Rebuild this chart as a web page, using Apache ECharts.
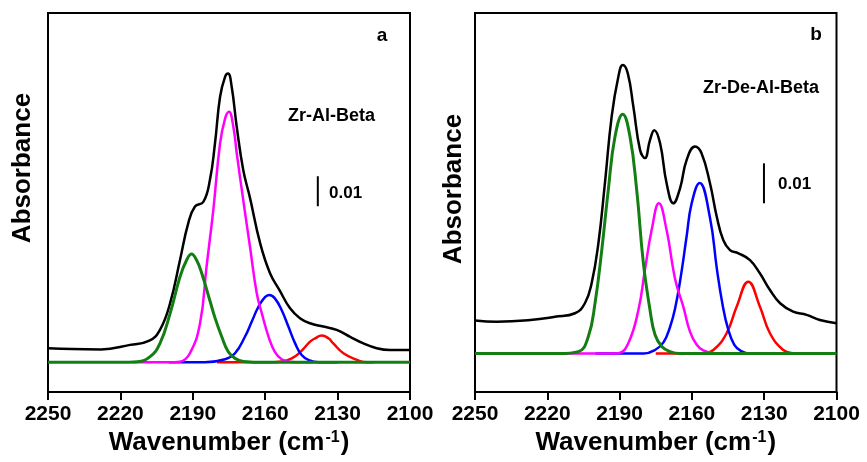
<!DOCTYPE html>
<html>
<head>
<meta charset="utf-8">
<script src="https://cdn.jsdelivr.net/npm/echarts@6/dist/echarts.min.js"></script>
<style>
  html, body { margin: 0; padding: 0; background: #fff; }
  #chart { width: 867px; height: 462px; }
</style>
</head>
<body>
<div id="chart"></div>
<script>
// Wavenumber axis ticks (cm-1)
const wavenumberTicks = [2250, 2220, 2190, 2160, 2130, 2100];

// Panel a: Zr-Al-Beta — measured spectrum and fitted bands [wavenumber, absorbance]
const totalA = [[2250, 0.0047], [2240, 0.0044], [2228, 0.0043], [2216, 0.0058], [2208, 0.0072], [2203.6, 0.0108], [2199.4, 0.0197], [2195.3, 0.0341], [2191.9, 0.0463], [2189.1, 0.0519], [2185.6, 0.0535], [2182.9, 0.0608], [2180.8, 0.073], [2178.7, 0.0885], [2176.6, 0.0952], [2175.4, 0.0962], [2173.9, 0.0919], [2171.8, 0.0785], [2169.1, 0.0641], [2166.3, 0.0548], [2162.1, 0.0397], [2158, 0.0297], [2153.9, 0.0238], [2149.7, 0.018], [2145.6, 0.0147], [2141.4, 0.013], [2135.9, 0.0119], [2130.4, 0.0108], [2124.8, 0.0085], [2119.3, 0.0063], [2113.8, 0.0047], [2108.3, 0.0041], [2100, 0.0041]];
const band2190A = [[2250, 0], [2220, 0], [2213, 0.0002], [2207.7, 0.0019], [2203.6, 0.0063], [2199.4, 0.0163], [2195.3, 0.0285], [2192.6, 0.034], [2190.5, 0.0361], [2188.4, 0.034], [2186.3, 0.0297], [2182.9, 0.0205], [2180.8, 0.0148], [2178, 0.0085], [2175.3, 0.0035], [2172.5, 0.0013], [2169, 0.0003], [2160, 0], [2100, 0]];
const band2175A = [[2215, 0], [2200, 0], [2195.3, 0.0002], [2191.2, 0.003], [2187, 0.013], [2184.3, 0.0319], [2181.5, 0.0508], [2178.7, 0.073], [2176.6, 0.0813], [2175, 0.0835], [2173.2, 0.0785], [2171.8, 0.0697], [2169.1, 0.0541], [2166.3, 0.0385], [2163.5, 0.023], [2161.4, 0.0163], [2158.6, 0.0085], [2156, 0.0035], [2153.2, 0.001], [2150, 0.0002], [2145, 0], [2140, 0]];
const band2158A = [[2200, 0], [2185, 0], [2176.6, 0.001], [2172.5, 0.003], [2168.4, 0.0085], [2165.6, 0.0135], [2162.8, 0.0185], [2160.1, 0.0217], [2158.3, 0.0224], [2156, 0.0213], [2153.2, 0.0174], [2150.4, 0.0119], [2147.6, 0.0063], [2144.9, 0.0024], [2142.1, 0.0008], [2138, 0], [2130, 0]];
const band2137A = [[2180, 0], [2160, 0], [2153, 0.0003], [2149, 0.0013], [2145.6, 0.0033], [2141.4, 0.0069], [2139.3, 0.008], [2136.6, 0.0089], [2133.8, 0.008], [2131.8, 0.0063], [2127.6, 0.003], [2122, 0.0008], [2118, 0], [2115, 0]];

// Panel b: Zr-De-Al-Beta
const totalB = [[2250, 0.0083], [2241, 0.008], [2227, 0.0084], [2216.8, 0.0092], [2208.5, 0.0101], [2204.4, 0.0126], [2201.6, 0.0176], [2198.8, 0.0276], [2196.1, 0.0426], [2193.3, 0.0593], [2190.5, 0.0693], [2188.7, 0.0722], [2186.6, 0.0701], [2184.3, 0.0618], [2181.5, 0.0509], [2179.5, 0.0489], [2177.4, 0.0534], [2175.6, 0.0559], [2173.2, 0.0526], [2170.5, 0.0426], [2167.7, 0.0376], [2164.9, 0.0414], [2162.2, 0.0484], [2158.7, 0.0518], [2156, 0.0501], [2152.5, 0.0426], [2149.7, 0.0343], [2147, 0.0284], [2144.2, 0.0259], [2140.7, 0.0251], [2135.9, 0.0234], [2131.8, 0.0201], [2127.6, 0.0159], [2123.4, 0.0126], [2118, 0.0105], [2112.4, 0.0097], [2106.9, 0.0084], [2100, 0.0076]];
const band2189B = [[2250, 0], [2215, 0], [2207.1, 0.0005], [2203, 0.0042], [2200.2, 0.0126], [2197.4, 0.0259], [2194.7, 0.0409], [2191.9, 0.0543], [2188.7, 0.0599], [2185.7, 0.0543], [2182.9, 0.0409], [2180.2, 0.023], [2177.4, 0.011], [2175.3, 0.0047], [2172.5, 0.0018], [2169.1, 0.0005], [2165, 0], [2100, 0]];
const band2174B = [[2215, 0], [2195, 0], [2190.5, 0.0001], [2186.4, 0.0026], [2182.2, 0.0109], [2179.5, 0.0209], [2176.7, 0.0309], [2173.7, 0.0376], [2170.5, 0.0309], [2167.7, 0.0209], [2166.3, 0.017], [2163.6, 0.0118], [2160.8, 0.0055], [2158, 0.0022], [2155.3, 0.0008], [2151, 0.0001], [2145, 0]];
const band2157B = [[2200, 0], [2180, 0], [2175.3, 0.0009], [2171.8, 0.0028], [2169.1, 0.0066], [2167, 0.0112], [2164.5, 0.0197], [2162.2, 0.0293], [2160.1, 0.0376], [2156.8, 0.0427], [2152.5, 0.034], [2149.6, 0.021], [2147.2, 0.012], [2145, 0.0062], [2142.4, 0.0022], [2139.7, 0.0007], [2136, 0], [2130, 0]];
const band2137B = [[2175, 0], [2160, 0], [2155.3, 0.0001], [2151.1, 0.0009], [2145.6, 0.0051], [2141.4, 0.0118], [2136.6, 0.018], [2131.8, 0.0118], [2127.6, 0.0051], [2122.1, 0.0009], [2118, 0.0001], [2115, 0]];

// Absorbance scale bars (0.01 units)
const scaleBarA = [[2138.2, 0.052], [2138.2, 0.062]];
const scaleBarB = [[2130.1, 0.0376], [2130.1, 0.0476]];
const scaleLabel = '0.01';
const sampleNames = ['Zr-Al-Beta', 'Zr-De-Al-Beta'];
const panelLetters = ['a', 'b'];

const FONT = '"Liberation Sans", Arial, Helvetica, sans-serif';
const COLORS = { total: '#000000', green: '#137f13', magenta: '#ff00ff', blue: '#0000ff', red: '#ff0000' };

function xAxisFor(gridIndex) {
  return {
    type: 'value', gridIndex: gridIndex,
    min: wavenumberTicks[wavenumberTicks.length - 1], max: wavenumberTicks[0],
    interval: 30, inverse: true,
    axisLine: { show: true, onZero: false, lineStyle: { color: '#000', width: 2 } },
    axisTick: { show: true, inside: false, length: 8, lineStyle: { color: '#000', width: 2 } },
    axisLabel: {
      fontSize: 21, fontWeight: 'bold', color: '#000', fontFamily: FONT, margin: 12,
      formatter: function (v) { return String(v); }
    },
    splitLine: { show: false },
    name: '{t|Wavenumber (cm}{s|-1}{t|)}',
    nameLocation: 'middle', nameGap: 34,
    nameTextStyle: {
      rich: {
        t: { fontSize: 26, fontWeight: 'bold', fontFamily: FONT, color: '#000' },
        s: { fontSize: 16, fontWeight: 'bold', fontFamily: FONT, color: '#000', verticalAlign: 'top', padding: [0, 1, 0, 1] }
      }
    }
  };
}

function yAxisFor(gridIndex, min, max) {
  return {
    type: 'value', gridIndex: gridIndex, min: min, max: max,
    axisLine: { show: false }, axisTick: { show: false },
    axisLabel: { show: false }, splitLine: { show: false }
  };
}

function lineSeries(idx, data, color, width, z) {
  return {
    type: 'line', xAxisIndex: idx, yAxisIndex: idx, data: data,
    showSymbol: false, symbol: 'none', smooth: 0.45, z: z,
    lineStyle: { color: color, width: width }, silent: true
  };
}

function barSeries(idx, data) {
  return {
    type: 'line', xAxisIndex: idx, yAxisIndex: idx, data: data,
    showSymbol: false, symbol: 'none', z: 10,
    lineStyle: { color: '#000', width: 2 }, silent: true
  };
}

function text(str, x, y, size, align, rotation) {
  return {
    type: 'text', x: x, y: y, rotation: rotation || 0, silent: true, z: 100,
    style: {
      text: str, fill: '#000', fontSize: size, fontWeight: 'bold', fontFamily: FONT,
      align: align, verticalAlign: 'middle'
    }
  };
}

const chart = echarts.init(document.getElementById('chart'), null, { renderer: 'canvas' });
chart.setOption({
  animation: false,
  backgroundColor: '#ffffff',
  grid: [
    { left: 48, top: 13, width: 362, height: 379, show: true, borderColor: '#000', borderWidth: 2, backgroundColor: 'transparent' },
    { left: 475, top: 13, width: 361.5, height: 379, show: true, borderColor: '#000', borderWidth: 2, backgroundColor: 'transparent' }
  ],
  xAxis: [xAxisFor(0), xAxisFor(1)],
  yAxis: [yAxisFor(0, -0.0099, 0.1164), yAxisFor(1, -0.0096, 0.0852)],
  series: [
    lineSeries(0, totalA, COLORS.total, 2.5, 2),
    lineSeries(0, band2137A, COLORS.red, 2.5, 3),
    lineSeries(0, band2158A, COLORS.blue, 2.5, 4),
    lineSeries(0, band2175A, COLORS.magenta, 2.5, 5),
    lineSeries(0, band2190A, COLORS.green, 3, 6),
    barSeries(0, scaleBarA),
    lineSeries(1, totalB, COLORS.total, 2.5, 2),
    lineSeries(1, band2137B, COLORS.red, 2.5, 3),
    lineSeries(1, band2157B, COLORS.blue, 2.5, 4),
    lineSeries(1, band2174B, COLORS.magenta, 2.5, 5),
    lineSeries(1, band2189B, COLORS.green, 3, 6),
    barSeries(1, scaleBarB)
  ],
  graphic: [
    text(panelLetters[0], 382, 36, 19, 'center'),
    text(panelLetters[1], 816, 35, 19, 'center'),
    text(sampleNames[0], 288, 116, 18, 'left'),
    text(sampleNames[1], 703, 88, 18, 'left'),
    text(scaleLabel, 329, 193, 17, 'left'),
    text(scaleLabel, 778, 184, 17, 'left'),
    text('Absorbance', 23, 168, 26, 'center', Math.PI / 2),
    text('Absorbance', 454, 189, 26, 'center', Math.PI / 2)
  ]
});
</script>
</body>
</html>
